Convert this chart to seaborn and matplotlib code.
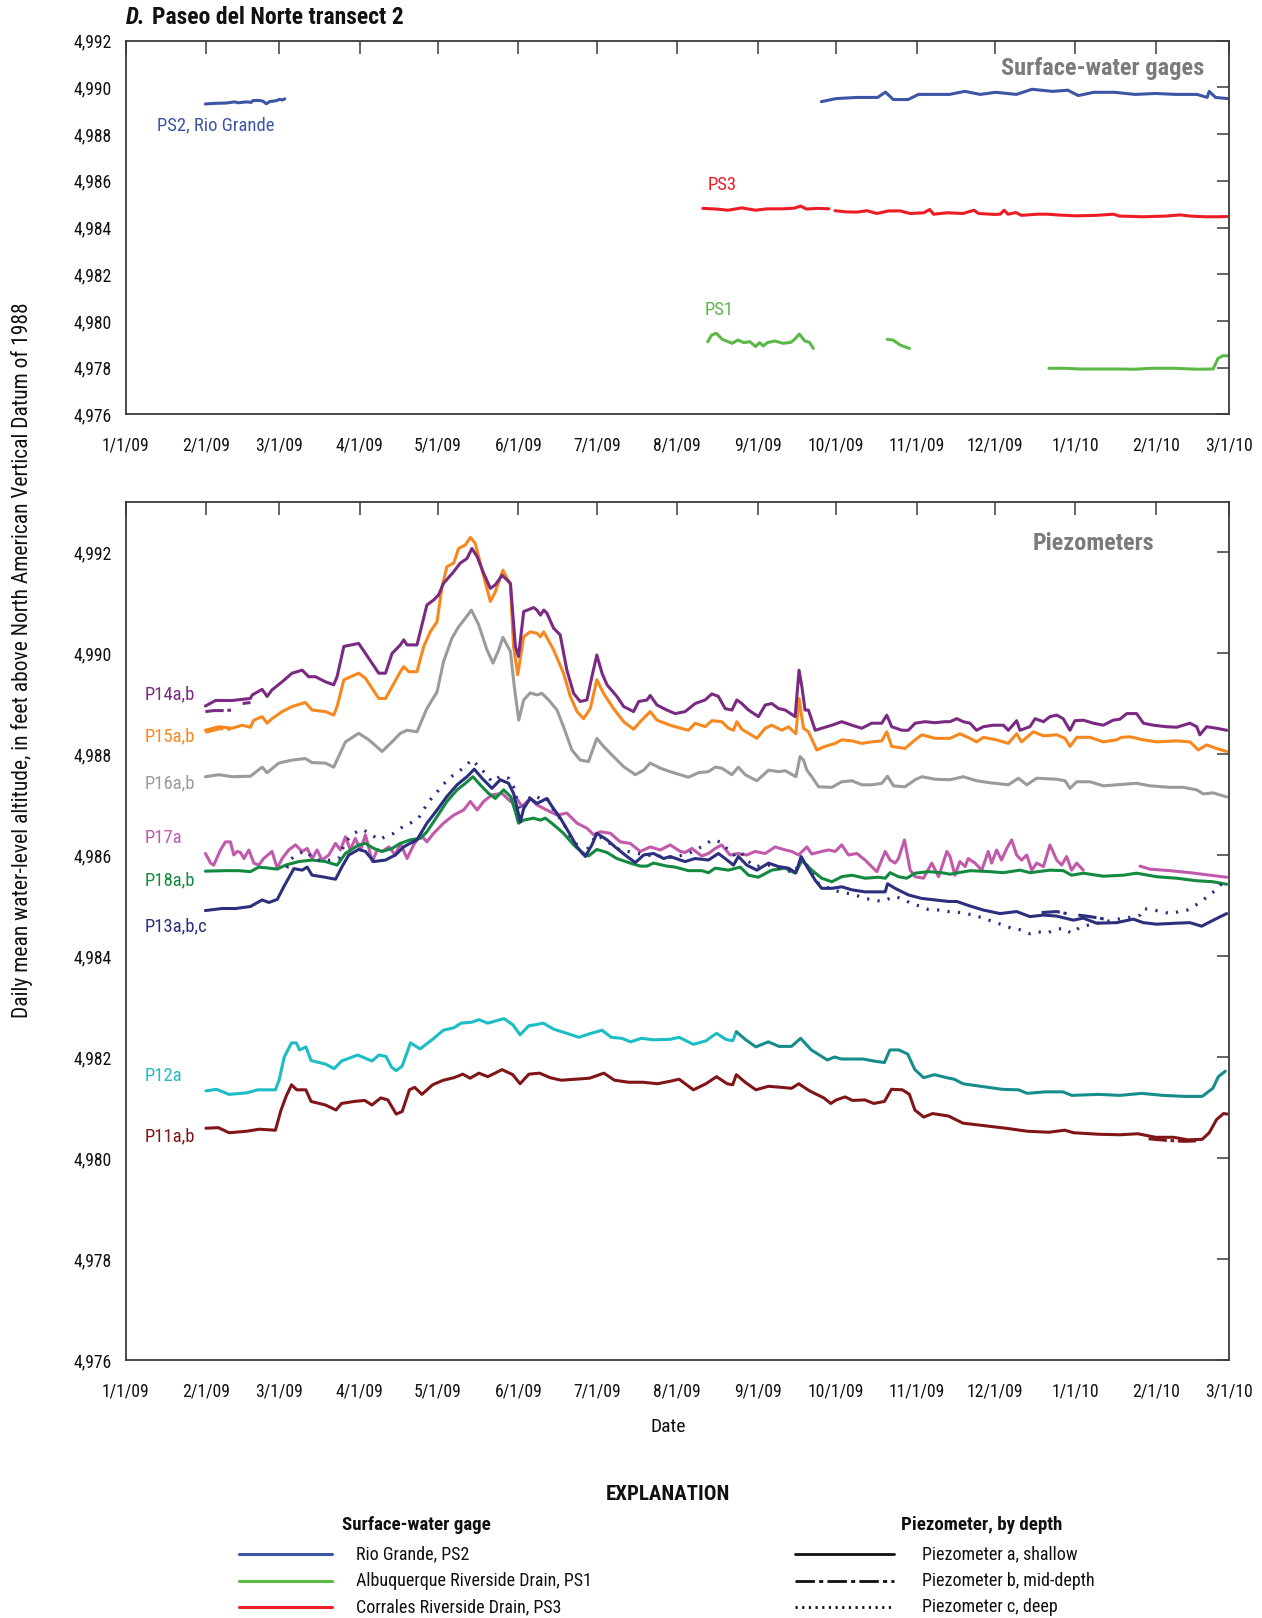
import numpy as np
import pandas as pd
import matplotlib
matplotlib.use("Agg")
import matplotlib.pyplot as plt
import matplotlib.dates as mdates
from matplotlib.ticker import FuncFormatter, FixedLocator
from matplotlib.lines import Line2D
from matplotlib import font_manager as fm
import seaborn as sns

# ---------------- DATA (days since 1/1/2009, water-level altitude in feet) -------------
START = "2009-01-01"

# Surface-water gages (top panel)
PS2_S1_DAYS = [30.7, 34.9, 38.7, 41.9, 43.2, 46.4, 48.3, 49.0, 51.5, 52.8, 54.1, 55.4, 57.9, 59.2, 60.3, 61.2]
PS2_S1_VALS = [4989.29, 4989.32, 4989.33, 4989.38, 4989.34, 4989.38, 4989.36, 4989.44, 4989.44, 4989.41,
               4989.30, 4989.39, 4989.43, 4989.49, 4989.46, 4989.51]
PS2_S2_DAYS = [267.4, 273, 281, 289, 292, 295, 300.7, 304.7, 316.6, 322.5, 328.4, 334.4, 342.3, 348.3, 356.2,
               362.1, 366.1, 372, 380, 387.9, 395.8, 403.7, 411.7, 415.6, 416.4, 418.8, 423.5]
PS2_S2_VALS = [4989.39, 4989.52, 4989.57, 4989.57, 4989.80, 4989.48, 4989.48, 4989.70, 4989.70, 4989.83,
               4989.70, 4989.79, 4989.70, 4989.92, 4989.83, 4989.88, 4989.65, 4989.79, 4989.79, 4989.70,
               4989.74, 4989.70, 4989.70, 4989.57, 4989.83, 4989.57, 4989.52]

PS3_S1_DAYS = [221.8, 227, 231.5, 236.8, 242.1, 246.6, 252.6, 257.1, 259.4, 261.6, 266.1, 270.3]
PS3_S1_VALS = [4984.82, 4984.79, 4984.74, 4984.84, 4984.74, 4984.80, 4984.80, 4984.83, 4984.92, 4984.79,
               4984.82, 4984.80]
PS3_S2_DAYS = [272.6, 276.7, 281.2, 284.9, 288.7, 293.2, 297.7, 301.5, 306.7, 309, 310.5, 315.8, 321.8, 326,
               327.8, 333.8, 336.1, 337.6, 339.1, 342.1, 344.3, 350.3, 354.1, 359.3, 365.3, 372.9, 379.6,
               381.9, 390.9, 399.9, 405.2, 408.9, 414.9, 419.5, 423.2]
PS3_S2_VALS = [4984.72, 4984.67, 4984.66, 4984.72, 4984.60, 4984.71, 4984.71, 4984.60, 4984.63, 4984.77,
               4984.57, 4984.63, 4984.60, 4984.74, 4984.60, 4984.56, 4984.57, 4984.74, 4984.57, 4984.64,
               4984.52, 4984.57, 4984.57, 4984.53, 4984.50, 4984.52, 4984.57, 4984.49, 4984.46, 4984.49,
               4984.54, 4984.49, 4984.46, 4984.46, 4984.47]

PS1_S1_DAYS = [223.7, 225.2, 227, 229.3, 233.1, 235.3, 237.6, 239.9, 242.1, 243.6, 245.1, 246.6, 249.6,
               252.6, 255.6, 257.1, 258.9, 260.9, 262.8, 264.3]
PS1_S1_VALS = [4979.11, 4979.39, 4979.47, 4979.21, 4979.04, 4979.18, 4979.07, 4979.11, 4978.90, 4979.07,
               4978.93, 4979.07, 4979.14, 4979.04, 4979.08, 4979.21, 4979.44, 4979.15, 4979.08, 4978.82]
PS1_S2_DAYS = [292.7, 294.9, 297.6, 301.2]
PS1_S2_VALS = [4979.21, 4979.18, 4978.97, 4978.82]
PS1_S3_DAYS = [354.8, 360.8, 366.9, 374.4, 381.9, 387.9, 393.9, 402.9, 411.9, 417.9, 419.8, 421.7, 423.6]
PS1_S3_VALS = [4977.97, 4977.97, 4977.94, 4977.94, 4977.94, 4977.93, 4977.97, 4977.97, 4977.93, 4977.94,
               4978.40, 4978.51, 4978.50]

# Piezometers (bottom panel)
P14A_DAYS = [30.7, 34.6, 41, 48, 48.7, 52.5, 54.4, 56.3, 60.2, 64, 67.9, 70.4, 73, 76.8, 80, 81.3, 83.9, 89.6,
             92.2, 97.3, 99.9, 102.4, 105.6, 106.9, 108.2, 112, 115.8, 118.4, 120.3, 122.2, 126.1, 128.6,
             131.2, 133.1, 135.1, 137.6, 140.2, 142.1, 144.7, 147.9, 149.8, 151, 153, 156.8, 158.1, 159.4,
             160.7, 161.9, 164.5, 167, 169.6, 172.2, 174.7, 177.3, 179.2, 181.1, 183.1, 185, 188.8, 191.4,
             195.2, 197.2, 200.4, 201.6, 204.2, 208, 211.2, 215, 218.9, 222.7, 225.3, 227.8, 230.4, 233,
             234.9, 236.8, 239.4, 243.2, 245.8, 248.3, 250.9, 253.5, 257.3, 258.8, 259.9, 261.1, 262.4, 265,
             267.5, 271.4, 275.2, 279.1, 282.9, 286.7, 290.6, 292.5, 294.4, 298.3, 300.8, 303.4, 307.2, 311.1,
             314.9, 316.8, 319.4, 321.9, 324.5, 327, 329.6, 333.4, 337.3, 339.2, 342.4, 343.7, 347.5, 349.5,
             352.7, 355.2, 357.8, 360.3, 362.9, 364.8, 368, 371.9, 375.7, 379.5, 382.1, 384.7, 388.5, 391.1,
             394.9, 400, 403.9, 409, 411.6, 412.8, 415.4, 419.2, 423.1]
P14A_VALS = [4988.95, 4989.06, 4989.06, 4989.10, 4989.17, 4989.28, 4989.14, 4989.27, 4989.43, 4989.60, 4989.66,
             4989.53, 4989.53, 4989.43, 4989.37, 4989.53, 4990.13, 4990.19, 4989.99, 4989.60, 4989.60,
             4989.99, 4990.16, 4990.26, 4990.16, 4990.16, 4990.95, 4991.05, 4991.15, 4991.38, 4991.61,
             4991.78, 4991.87, 4992.07, 4991.91, 4991.58, 4991.28, 4991.35, 4991.54, 4991.38, 4990.13,
             4989.93, 4990.82, 4990.90, 4990.85, 4990.75, 4990.85, 4990.79, 4990.49, 4990.36, 4989.66,
             4989.20, 4989.04, 4989.07, 4989.53, 4989.96, 4989.60, 4989.37, 4989.14, 4988.94, 4988.84,
             4989.04, 4989.07, 4989.16, 4988.97, 4988.87, 4988.80, 4988.84, 4989.00, 4989.07, 4989.19,
             4989.14, 4988.90, 4988.87, 4989.07, 4989.00, 4988.87, 4988.74, 4988.97, 4989.00, 4988.90,
             4988.87, 4988.74, 4989.66, 4989.33, 4988.87, 4988.87, 4988.47, 4988.51, 4988.57, 4988.64,
             4988.57, 4988.51, 4988.61, 4988.61, 4988.77, 4988.54, 4988.47, 4988.47, 4988.61, 4988.64,
             4988.62, 4988.64, 4988.64, 4988.70, 4988.64, 4988.61, 4988.47, 4988.54, 4988.57, 4988.57,
             4988.47, 4988.66, 4988.47, 4988.54, 4988.70, 4988.64, 4988.74, 4988.77, 4988.70, 4988.47,
             4988.66, 4988.67, 4988.61, 4988.57, 4988.67, 4988.69, 4988.80, 4988.80, 4988.61, 4988.57,
             4988.54, 4988.53, 4988.61, 4988.54, 4988.38, 4988.54, 4988.51, 4988.47]
P14B_S1_DAYS = [30.7, 34.0, 38.0, 41.0]
P14B_S1_VALS = [4988.84, 4988.86, 4988.86, 4988.87]
P14B_S2_DAYS = [45.0, 48.0]
P14B_S2_VALS = [4989.00, 4989.02]

P15A_DAYS = [30.7, 35.9, 41, 44.8, 48, 49.3, 52.5, 54.4, 56.3, 60.2, 64, 69.1, 71.7, 76.8, 80, 81.3, 83.9, 89.6,
             92.2, 97.3, 99.9, 102.4, 105.6, 106.9, 108.8, 112, 114.6, 117.1, 119.7, 121.6, 123.5, 126.1, 128,
             130.6, 132.5, 134.4, 137, 140.2, 142.1, 145, 147.9, 149.1, 150.7, 153, 155.5, 158.1, 159.4, 160.7,
             164.5, 168.3, 170.9, 173.5, 176, 178.6, 181.1, 183.7, 187.5, 191.4, 195.2, 197.8, 201.6, 204.2,
             209.3, 211.2, 216.3, 218.9, 222.7, 225.3, 229.1, 231.7, 233.6, 234.9, 236.8, 239.4, 242.6, 245.8,
             248.3, 252.2, 254.7, 257.6, 258.8, 260.5, 262.4, 265.6, 268.8, 272.7, 275.2, 279.1, 282.9, 286.7,
             290.6, 292.5, 294.4, 299.5, 303.4, 306, 311.1, 316.8, 320.6, 324.5, 327, 329.6, 334.7, 339.2,
             342.4, 344.3, 348.8, 352.7, 357.8, 361, 362.9, 365.5, 370.6, 375.7, 380.8, 382.7, 386, 391.1,
             396.2, 403.9, 409, 412.2, 415.4, 419.2, 423.1]
P15A_VALS = [4988.47, 4988.54, 4988.51, 4988.57, 4988.53, 4988.67, 4988.74, 4988.61, 4988.70, 4988.84,
             4988.94, 4989.02, 4988.87, 4988.84, 4988.77, 4988.94, 4989.47, 4989.60, 4989.50, 4989.10,
             4989.10, 4989.33, 4989.63, 4989.73, 4989.63, 4989.63, 4990.13, 4990.42, 4990.62, 4991.31,
             4991.71, 4991.78, 4992.07, 4992.14, 4992.29, 4992.17, 4991.64, 4991.02, 4991.21, 4991.64,
             4991.35, 4990.13, 4989.57, 4990.32, 4990.42, 4990.39, 4990.32, 4990.42, 4990.06, 4989.60,
             4989.14, 4988.84, 4988.70, 4988.90, 4989.47, 4989.20, 4988.90, 4988.64, 4988.49, 4988.64,
             4988.84, 4988.67, 4988.57, 4988.54, 4988.47, 4988.61, 4988.54, 4988.66, 4988.64, 4988.51,
             4988.47, 4988.64, 4988.49, 4988.41, 4988.31, 4988.51, 4988.57, 4988.47, 4988.54, 4988.40,
             4989.10, 4988.51, 4988.44, 4988.08, 4988.15, 4988.21, 4988.28, 4988.26, 4988.21, 4988.24,
             4988.26, 4988.44, 4988.15, 4988.11, 4988.28, 4988.38, 4988.31, 4988.31, 4988.40, 4988.31,
             4988.24, 4988.33, 4988.28, 4988.21, 4988.40, 4988.24, 4988.44, 4988.36, 4988.38, 4988.31,
             4988.15, 4988.33, 4988.33, 4988.24, 4988.28, 4988.33, 4988.34, 4988.28, 4988.24, 4988.26,
             4988.24, 4988.08, 4988.18, 4988.11, 4988.05]
P15B_DAYS = [30.7, 36.0, 41.0]
P15B_VALS = [4988.43, 4988.50, 4988.49]

P16A_DAYS = [30.7, 35.9, 41, 48, 52.5, 54.4, 58.9, 64, 69.1, 71.7, 76.8, 80, 81.9, 84.5, 89.6, 93.5, 98.6,
             102.4, 105.6, 108.2, 112, 115.8, 119.7, 122.2, 125.4, 128, 130.6, 132.9, 135.7, 138.9, 141.2,
             143.4, 145, 147.9, 149.4, 151.1, 153, 155.5, 158.1, 160, 162.6, 165.8, 168.3, 171.5, 174.7,
             177.9, 181.1, 183.7, 187.5, 191.4, 195.9, 199.1, 201.6, 205.5, 209.3, 211.2, 216.3, 220.2, 224,
             226.6, 229.1, 233, 235.5, 238.1, 242.6, 247.1, 250.9, 253.5, 257.6, 259.2, 260.5, 261.8, 263.7,
             266.3, 271.4, 275.2, 279.1, 282.9, 286.7, 290.6, 292.8, 295.1, 299.5, 303.4, 306, 311.1, 316.8,
             321.9, 327, 332.2, 339.2, 343.1, 346.3, 350.1, 357.8, 361, 362.9, 365.5, 370.6, 375.7, 380.8,
             388.5, 393.6, 401.3, 406.4, 411.6, 414.1, 417.9, 423.1]
P16A_VALS = [4987.55, 4987.59, 4987.55, 4987.56, 4987.74, 4987.63, 4987.82, 4987.88, 4987.91, 4987.83,
             4987.82, 4987.74, 4987.95, 4988.24, 4988.41, 4988.28, 4988.05, 4988.24, 4988.41, 4988.47,
             4988.44, 4988.90, 4989.23, 4989.83, 4990.29, 4990.52, 4990.69, 4990.85, 4990.56, 4990.06,
             4989.80, 4990.06, 4990.31, 4990.03, 4989.33, 4988.67, 4989.07, 4989.21, 4989.17, 4989.20,
             4989.07, 4988.87, 4988.54, 4988.08, 4987.88, 4987.85, 4988.31, 4988.15, 4987.95, 4987.75,
             4987.59, 4987.68, 4987.82, 4987.72, 4987.65, 4987.62, 4987.54, 4987.63, 4987.65, 4987.74,
             4987.72, 4987.59, 4987.74, 4987.59, 4987.47, 4987.68, 4987.65, 4987.67, 4987.55, 4987.95,
             4987.88, 4987.68, 4987.55, 4987.35, 4987.34, 4987.45, 4987.47, 4987.39, 4987.39, 4987.42,
             4987.56, 4987.37, 4987.35, 4987.49, 4987.55, 4987.50, 4987.49, 4987.55, 4987.47, 4987.43,
             4987.39, 4987.52, 4987.39, 4987.52, 4987.50, 4987.47, 4987.32, 4987.45, 4987.45, 4987.37,
             4987.39, 4987.42, 4987.37, 4987.34, 4987.34, 4987.29, 4987.21, 4987.23, 4987.15]

P17A_S1_DAYS = [30.7, 32.7, 33.9, 36.5, 38.4, 40.3, 41.6, 42.9, 44.2, 45.5, 47.4, 49.3, 51.2, 53.1, 56.3, 58.3,
                60.2, 62.7, 65.3, 67.9, 69.8, 71.7, 73.6, 75.5, 78.1, 80.7, 82.6, 84.5, 86.4, 88.3, 90.3, 92.2,
                94.8, 96.7, 98.6, 101.2, 103.7, 105.6, 108.2, 110.7, 113.3, 115.8, 118.4, 122.2, 126.1, 129.9,
                132.5, 135.1, 137.6, 140.8, 144.7, 147.9, 149.8, 152.3, 155.5, 158.1, 161.9, 165.8, 169.6,
                173.5, 177.3, 179.9, 182.4, 186.3, 190.1, 193.9, 197.8, 201.6, 205.5, 209.3, 213.2, 215, 217.6,
                221.4, 224, 226.6, 229.1, 232.3, 235.5, 238.7, 241.9, 245.8, 249.6, 253.5, 256, 258.6, 261.8,
                263.7, 267.5, 270.1, 272.7, 275.2, 277.8, 281, 284.2, 286.7, 288.7, 291.9, 293.8, 295.7, 297,
                299.3, 301.5, 303.4, 306.6, 309.8, 312.4, 315.6, 316.8, 318.7, 320.6, 322.6, 323.8, 326.4, 329,
                331.5, 332.8, 334.7, 336.6, 338.6, 340.5, 342.4, 344.3, 346.3, 348.2, 350.1, 352.7, 355.2,
                357.8, 359.7, 361.6, 363.5, 365.5, 368]
P17A_S1_VALS = [4986.03, 4985.84, 4985.80, 4986.10, 4986.26, 4986.26, 4986.00, 4986.07, 4986.05, 4985.93,
                4986.10, 4985.84, 4985.80, 4985.93, 4986.07, 4985.74, 4985.93, 4986.10, 4986.20, 4986.07,
                4986.13, 4985.93, 4986.10, 4985.90, 4986.00, 4986.23, 4986.10, 4986.36, 4986.10, 4986.33,
                4986.10, 4986.40, 4985.87, 4986.10, 4986.07, 4986.16, 4986.00, 4986.23, 4985.93, 4986.20,
                4986.40, 4986.26, 4986.43, 4986.63, 4986.79, 4986.89, 4987.06, 4986.89, 4987.06, 4987.19,
                4987.22, 4987.06, 4987.16, 4986.96, 4987.12, 4986.99, 4986.89, 4986.79, 4986.83, 4986.63,
                4986.53, 4986.40, 4986.46, 4986.43, 4986.26, 4986.23, 4986.07, 4986.16, 4986.10, 4986.20,
                4986.07, 4986.05, 4986.13, 4985.98, 4986.03, 4986.13, 4986.20, 4986.00, 4986.03, 4986.00,
                4986.07, 4986.03, 4986.16, 4986.10, 4986.07, 4986.00, 4986.16, 4986.02, 4986.07, 4986.10,
                4986.07, 4986.20, 4986.00, 4986.03, 4985.90, 4985.77, 4985.67, 4986.07, 4985.90, 4985.84,
                4985.93, 4986.30, 4985.70, 4985.57, 4985.54, 4985.84, 4985.57, 4986.07, 4985.97, 4985.60,
                4985.87, 4985.77, 4985.93, 4985.84, 4985.70, 4986.07, 4985.84, 4986.10, 4985.90, 4986.13,
                4986.30, 4986.00, 4985.90, 4986.00, 4985.70, 4985.84, 4985.77, 4986.20, 4985.90, 4985.80,
                4985.97, 4985.70, 4985.84, 4985.70]
P17A_S2_DAYS = [389.8, 393.6, 401.3, 409, 416.7, 423.1]
P17A_S2_VALS = [4985.78, 4985.72, 4985.69, 4985.65, 4985.60, 4985.56]

P18A_DAYS = [30.7, 38.4, 43.5, 48, 51.2, 55.1, 58.3, 61.5, 66.6, 71.7, 76.8, 81.3, 84.5, 89.6, 92.2, 95.4, 98.6,
             102.4, 105.6, 109.4, 113.3, 115.8, 119.7, 123.5, 127.4, 130.6, 133.5, 136.3, 139.5, 142.1, 145.3,
             147.9, 149.8, 151, 153, 156.8, 159.4, 161.3, 164.5, 168.3, 172.2, 175.4, 177.9, 181.1, 185,
             188.8, 193.9, 197.8, 200.4, 202.9, 208, 211.2, 216.3, 221.4, 224, 226.6, 231.7, 236.2, 239.4,
             243.2, 248.3, 253.5, 257.3, 259.9, 263.7, 267.5, 271.4, 275.2, 279.1, 284.2, 289.3, 291.9, 293.8,
             297, 300.2, 303.4, 308.5, 313.6, 316.8, 324.5, 332.2, 337.3, 343.7, 347.5, 355.2, 360.3, 363.5,
             368, 375.7, 383.4, 388.5, 396.2, 403.9, 411.6, 417.9, 423.1]
P18A_VALS = [4985.68, 4985.69, 4985.69, 4985.67, 4985.76, 4985.74, 4985.72, 4985.80, 4985.87, 4985.90,
             4985.87, 4985.80, 4986.03, 4986.20, 4986.23, 4986.13, 4986.07, 4986.13, 4986.23, 4986.30,
             4986.33, 4986.46, 4986.76, 4987.06, 4987.29, 4987.42, 4987.55, 4987.39, 4987.22, 4987.12,
             4987.29, 4987.16, 4986.86, 4986.63, 4986.69, 4986.73, 4986.69, 4986.73, 4986.60, 4986.43,
             4986.20, 4986.05, 4985.98, 4986.11, 4986.05, 4985.93, 4985.84, 4985.78, 4985.78, 4985.84,
             4985.78, 4985.76, 4985.69, 4985.69, 4985.65, 4985.74, 4985.70, 4985.76, 4985.60, 4985.56,
             4985.70, 4985.74, 4985.64, 4985.89, 4985.70, 4985.54, 4985.47, 4985.57, 4985.60, 4985.54,
             4985.56, 4985.54, 4985.65, 4985.57, 4985.54, 4985.64, 4985.67, 4985.65, 4985.62, 4985.69,
             4985.67, 4985.65, 4985.70, 4985.65, 4985.70, 4985.69, 4985.60, 4985.64, 4985.58, 4985.60,
             4985.64, 4985.57, 4985.54, 4985.49, 4985.47, 4985.42]

P13A_DAYS = [30.7, 37.1, 42.3, 48, 52.5, 55.1, 58.3, 60.8, 64.7, 67.9, 69.8, 71.7, 75.5, 80.7, 83.2, 85.8, 89.6,
             92.2, 95.4, 99.9, 103.7, 106.9, 108.2, 112, 115.8, 119.7, 123.5, 127.4, 131.2, 134, 137, 140.8,
             144, 147.2, 149.1, 151.7, 153, 155.5, 158.1, 161.9, 163.9, 167.1, 170.9, 173.5, 176.7, 179.2,
             181.1, 185, 188.8, 192.7, 195.9, 199.1, 202.9, 206.8, 209.3, 213.2, 215, 218.9, 224, 227.8, 230.4,
             233.6, 235.5, 238.7, 242.6, 247.1, 250.9, 254.7, 257.6, 259.6, 261.8, 265, 267.5, 271.4, 275.2,
             279.1, 284.2, 288, 291.9, 292.8, 295.7, 300.8, 305.9, 311.1, 316.2, 319.4, 324.5, 329.6, 336,
             342.4, 347.5, 352.7, 357.8, 364.2, 368, 373.1, 380.8, 387.2, 391.1, 396.2, 403.9, 409, 413.5,
             418, 423.1]
P13A_VALS = [4984.90, 4984.94, 4984.94, 4984.98, 4985.11, 4985.06, 4985.12, 4985.37, 4985.73, 4985.70,
             4985.76, 4985.60, 4985.57, 4985.52, 4985.77, 4986.00, 4986.11, 4986.07, 4985.87, 4985.90,
             4986.00, 4986.16, 4986.20, 4986.30, 4986.63, 4986.89, 4987.16, 4987.39, 4987.55, 4987.70,
             4987.52, 4987.32, 4987.49, 4987.42, 4987.22, 4986.66, 4986.92, 4987.12, 4987.02, 4987.12,
             4986.96, 4986.73, 4986.40, 4986.16, 4985.97, 4986.20, 4986.43, 4986.30, 4986.13, 4985.97,
             4985.85, 4986.00, 4986.03, 4985.93, 4985.97, 4985.90, 4985.87, 4985.93, 4985.90, 4986.03,
             4985.93, 4985.80, 4985.97, 4985.80, 4985.70, 4985.84, 4985.77, 4985.74, 4985.65, 4985.97,
             4985.77, 4985.50, 4985.34, 4985.34, 4985.37, 4985.31, 4985.27, 4985.27, 4985.27, 4985.43,
             4985.34, 4985.21, 4985.14, 4985.11, 4985.08, 4985.08, 4984.99, 4984.91, 4984.84, 4984.88,
             4984.78, 4984.81, 4984.79, 4984.71, 4984.75, 4984.65, 4984.66, 4984.73, 4984.66, 4984.63,
             4984.65, 4984.66, 4984.59, 4984.71, 4984.84]
P13B_S1_DAYS = [352.0, 357.8, 361.6]
P13B_S1_VALS = [4984.86, 4984.88, 4984.84]
P13B_S2_DAYS = [366.1, 370.6, 376.3]
P13B_S2_VALS = [4984.81, 4984.78, 4984.73]
P13C_DAYS = [62, 63.4, 66, 69.1, 72.3, 75.5, 78.7, 81.9, 84.5, 87.7, 90.9, 94.1, 97.3, 100.5, 103.1, 106.3,
             109.4, 112.6, 116.5, 119, 121.6, 124.8, 128, 131, 133.1, 135.7, 138.2, 140.8, 144, 147.2, 149.1,
             151.7, 153.6, 156.2, 159.4, 161.9, 164.5, 168.3, 170.9, 173.5, 176, 181, 190, 200, 210, 216,
             222.7, 225.3, 228.5, 233.6, 236.2, 238.7, 241.9, 247, 257, 260, 266, 272, 280.3, 284.2, 287.4,
             290.6, 295.7, 299.5, 302.1, 305.9, 308.5, 312.4, 316.2, 318.1, 321.9, 325.8, 329.6, 333.4, 337.3,
             340.5, 343.7, 347.5, 350.7, 353.9, 357.1, 360.3, 363.5, 366.7, 369.9, 376.5, 383.4, 386.6,
             389.8, 391.1, 394.9, 398.1, 401.3, 405.1, 408, 411.3, 414.1, 416.9, 419.2, 420.8, 422.4]
P13C_VALS = [4985.74, 4985.91, 4986.02, 4986.08, 4985.93, 4985.88, 4985.90, 4985.93, 4986.26, 4986.43,
             4986.51, 4986.42, 4986.30, 4986.38, 4986.43, 4986.55, 4986.63, 4986.73, 4987.06, 4987.20,
             4987.37, 4987.54, 4987.65, 4987.78, 4987.89, 4987.75, 4987.62, 4987.45, 4987.56, 4987.52,
             4987.35, 4986.86, 4987.02, 4987.19, 4987.12, 4987.12, 4986.89, 4986.63, 4986.36, 4986.20,
             4986.00, 4986.40, 4986.10, 4986.00, 4985.95, 4986.02, 4986.20, 4986.30, 4986.26, 4986.00,
             4986.07, 4985.90, 4985.77, 4985.80, 4985.65, 4985.95, 4985.45, 4985.30, 4985.21, 4985.14,
             4985.11, 4985.08, 4985.18, 4985.11, 4985.03, 4984.98, 4984.92, 4984.91, 4984.88, 4984.88,
             4984.85, 4984.81, 4984.75, 4984.68, 4984.61, 4984.55, 4984.52, 4984.44, 4984.48, 4984.45,
             4984.52, 4984.55, 4984.45, 4984.57, 4984.61, 4984.68, 4984.75, 4984.77, 4984.81, 4984.94,
             4984.91, 4984.88, 4984.84, 4984.88, 4984.91, 4985.01, 4985.11, 4985.23, 4985.31, 4985.41,
             4985.50]

P12A_S1_DAYS = [30.9, 35, 39.8, 46.6, 50.8, 57.6, 59, 61, 63.8, 65.6, 66.9, 69.3, 71.3, 76.8, 80.2, 83, 89.2,
                94.7, 97.4, 100.1, 102.2, 104, 106.3, 109.5, 113.2, 118, 122.1, 126.2, 128.9, 133.1, 135.8,
                139.2, 145.4, 148.8, 151.6, 155, 157.7, 160.5, 164.6, 170.1, 174.2, 178.3, 183.1, 186.6,
                190.7, 194.1, 198.2, 203, 209.3, 212.7, 218.2, 223, 227.1, 230.6, 233.3, 234.7]
P12A_S1_VALS = [4981.33, 4981.36, 4981.26, 4981.29, 4981.35, 4981.35, 4981.54, 4982.00, 4982.28, 4982.28,
                4982.14, 4982.20, 4981.93, 4981.86, 4981.77, 4981.92, 4982.04, 4981.92, 4982.04, 4982.01,
                4981.80, 4981.73, 4981.82, 4982.28, 4982.16, 4982.35, 4982.53, 4982.58, 4982.67, 4982.69,
                4982.74, 4982.67, 4982.76, 4982.64, 4982.44, 4982.62, 4982.64, 4982.67, 4982.55, 4982.46,
                4982.39, 4982.46, 4982.53, 4982.39, 4982.37, 4982.30, 4982.37, 4982.34, 4982.35, 4982.39,
                4982.25, 4982.32, 4982.47, 4982.35, 4982.32, 4982.50]
P12A_S2_DAYS = [234.7, 238.1, 242.2, 247, 251.1, 255.9, 259.4, 263.5, 269.7, 272.4, 275.1, 283.4, 287.5, 291.6,
                293.7, 297.1, 300.5, 303.3, 306.7, 310.8, 315.6, 318.4, 321.8, 328.6, 336.9, 343.1, 346.5,
                353.3, 360.2, 363.6, 373.9, 382.1, 390.4, 398.6, 406.8, 413.7, 417.8, 419.9, 422.6]
P12A_S2_VALS = [4982.50, 4982.35, 4982.20, 4982.30, 4982.21, 4982.21, 4982.37, 4982.14, 4981.94, 4982.00,
                4981.96, 4981.96, 4981.92, 4981.89, 4982.14, 4982.14, 4982.06, 4981.75, 4981.59, 4981.65,
                4981.59, 4981.56, 4981.47, 4981.42, 4981.36, 4981.35, 4981.28, 4981.31, 4981.31, 4981.24,
                4981.26, 4981.24, 4981.28, 4981.24, 4981.22, 4981.22, 4981.38, 4981.61, 4981.72]

P11A_DAYS = [30.9, 35.7, 39.8, 46.6, 51.4, 57.6, 59.7, 61.7, 63.8, 65.8, 69.3, 71.3, 76.8, 80.9, 83, 87.8, 91.9,
             94.7, 98.1, 100.8, 104, 106.3, 109.1, 111.1, 113.9, 118, 122.1, 126.2, 129.6, 132.4, 135.8, 139.2,
             144.7, 148.8, 151.6, 155, 159.1, 163.2, 167.4, 172.8, 178.3, 183.8, 187.9, 193.4, 198.9, 204.4,
             209.3, 212.7, 218.2, 223, 227.1, 231.2, 233.3, 234.7, 238.1, 242.2, 247, 251.8, 255.9, 258.7,
             262.8, 268.3, 271, 273.1, 276.5, 279.3, 284.1, 287.5, 291.6, 294.3, 298.5, 301.2, 303.3, 306.7,
             310.1, 316.3, 319, 321.8, 330, 338.2, 346.5, 354.7, 360.9, 364.3, 373.9, 382.1, 389, 395.8,
             402.7, 408.2, 413.7, 416.4, 419.2, 421.9, 423.3]
P11A_VALS = [4980.59, 4980.60, 4980.50, 4980.53, 4980.57, 4980.55, 4980.94, 4981.22, 4981.45, 4981.35,
             4981.35, 4981.12, 4981.05, 4980.95, 4981.08, 4981.12, 4981.14, 4981.05, 4981.19, 4981.15,
             4980.87, 4980.92, 4981.35, 4981.40, 4981.26, 4981.45, 4981.54, 4981.59, 4981.66, 4981.58,
             4981.68, 4981.61, 4981.75, 4981.65, 4981.47, 4981.66, 4981.68, 4981.59, 4981.54, 4981.56,
             4981.58, 4981.68, 4981.54, 4981.50, 4981.50, 4981.47, 4981.52, 4981.56, 4981.35, 4981.47,
             4981.61, 4981.47, 4981.45, 4981.65, 4981.50, 4981.35, 4981.42, 4981.40, 4981.38, 4981.47,
             4981.33, 4981.19, 4981.08, 4981.15, 4981.21, 4981.14, 4981.15, 4981.08, 4981.12, 4981.36,
             4981.35, 4981.26, 4980.95, 4980.81, 4980.88, 4980.83, 4980.76, 4980.69, 4980.64, 4980.59,
             4980.53, 4980.51, 4980.55, 4980.50, 4980.47, 4980.46, 4980.48, 4980.41, 4980.41, 4980.36,
             4980.37, 4980.50, 4980.76, 4980.88, 4980.87]
P11B_DAYS = [393.1, 400.0, 406.8, 412.0]
P11B_VALS = [4980.38, 4980.35, 4980.33, 4980.34]

TICK_MONTHS = ["2009-01-01", "2009-02-01", "2009-03-01", "2009-04-01", "2009-05-01", "2009-06-01",
               "2009-07-01", "2009-08-01", "2009-09-01", "2009-10-01", "2009-11-01", "2009-12-01",
               "2010-01-01", "2010-02-01", "2010-03-01"]
TICK_LABELS = ["1/1/09", "2/1/09", "3/1/09", "4/1/09", "5/1/09", "6/1/09", "7/1/09", "8/1/09", "9/1/09",
               "10/1/09", "11/1/09", "12/1/09", "1/1/10", "2/1/10", "3/1/10"]
Y_TICKS = [4976, 4978, 4980, 4982, 4984, 4986, 4988, 4990, 4992]

# ---------------- STYLE -------------
sns.set_theme(style="white")
names = {f.name for f in fm.fontManager.ttflist}
cond_dejavu = any(f.name == "DejaVu Sans" and "condensed" in str(f.stretch).lower() for f in fm.fontManager.ttflist)
if "Liberation Sans Narrow" in names:
    FAM, STRETCH = "Liberation Sans Narrow", "normal"
elif "Roboto Condensed" in names:
    FAM, STRETCH = "Roboto Condensed", "normal"
elif cond_dejavu:
    FAM, STRETCH = "DejaVu Sans", "condensed"
else:
    FAM, STRETCH = "Liberation Sans", "normal"
plt.rcParams["font.family"] = [FAM, "DejaVu Sans"]
plt.rcParams["font.stretch"] = STRETCH

C_PS2 = "#3c55a5"; C_PS1 = "#5cb947"; C_PS3 = "#ed1c24"
C_P14 = "#7a2a82"; C_P15 = "#f7881f"; C_P16 = "#9b9b9b"; C_P17 = "#c25aab"
C_P18 = "#148a40"; C_P13 = "#2b2f7e"; C_P12 = "#1cbdc4"; C_P12T = "#178c8d"; C_P11 = "#801518"
SPINE = "#3a3a3a"
TXT = "#111111"
LW = 2.2
DASHDOT = (0, (6, 1.2, 1.2, 1.2))
DOTTED = (0, (0.7, 2.6))

W, H = 1262, 1618
fig = plt.figure(figsize=(W / 100, H / 100), dpi=100)
fig.patch.set_facecolor("white")

def fx(px):
    return px / W

def fy(py):
    return 1 - py / H

ax_top = fig.add_axes([fx(125.5), fy(414.3), fx(1229) - fx(125.5), (414.3 - 40.7) / H])
ax_bot = fig.add_axes([fx(125.5), fy(1360), fx(1229) - fx(125.5), (1360 - 501.5) / H])

base = pd.Timestamp(START)

def to_dates(days):
    return base + pd.to_timedelta(np.asarray(days, dtype=float), unit="D")

def draw(ax, days, vals, color, ls="-", lw=LW, z=2):
    df = pd.DataFrame({"date": to_dates(days), "val": vals})
    sns.lineplot(data=df, x="date", y="val", ax=ax, color=color, lw=lw, linestyle=ls,
                 estimator=None, sort=False, legend=False, zorder=z)

# top panel
draw(ax_top, PS2_S1_DAYS, PS2_S1_VALS, C_PS2)
draw(ax_top, PS2_S2_DAYS, PS2_S2_VALS, C_PS2)
draw(ax_top, PS3_S1_DAYS, PS3_S1_VALS, C_PS3)
draw(ax_top, PS3_S2_DAYS, PS3_S2_VALS, C_PS3)
draw(ax_top, PS1_S1_DAYS, PS1_S1_VALS, C_PS1)
draw(ax_top, PS1_S2_DAYS, PS1_S2_VALS, C_PS1)
draw(ax_top, PS1_S3_DAYS, PS1_S3_VALS, C_PS1)

# bottom panel
draw(ax_bot, P16A_DAYS, P16A_VALS, C_P16)
draw(ax_bot, P15A_DAYS, P15A_VALS, C_P15)
draw(ax_bot, P15B_DAYS, P15B_VALS, C_P15, DASHDOT)
draw(ax_bot, P14A_DAYS, P14A_VALS, C_P14)
draw(ax_bot, P14B_S1_DAYS, P14B_S1_VALS, C_P14, DASHDOT)
draw(ax_bot, P14B_S2_DAYS, P14B_S2_VALS, C_P14, DASHDOT)
draw(ax_bot, P17A_S1_DAYS, P17A_S1_VALS, C_P17)
draw(ax_bot, P17A_S2_DAYS, P17A_S2_VALS, C_P17)
draw(ax_bot, P18A_DAYS, P18A_VALS, C_P18)
draw(ax_bot, P13C_DAYS, P13C_VALS, C_P13, DOTTED, lw=2.3)
draw(ax_bot, P13A_DAYS, P13A_VALS, C_P13)
draw(ax_bot, P13B_S1_DAYS, P13B_S1_VALS, C_P13, DASHDOT)
draw(ax_bot, P13B_S2_DAYS, P13B_S2_VALS, C_P13, DASHDOT)
draw(ax_bot, P12A_S1_DAYS, P12A_S1_VALS, C_P12)
draw(ax_bot, P12A_S2_DAYS, P12A_S2_VALS, C_P12T)
draw(ax_bot, P11A_DAYS, P11A_VALS, C_P11)
draw(ax_bot, P11B_DAYS, P11B_VALS, C_P11, DASHDOT)

tick_pos = [mdates.date2num(pd.Timestamp(t)) for t in TICK_MONTHS]
for ax, ylim in ((ax_top, (4976, 4992)), (ax_bot, (4976, 4993))):
    ax.set_xlim(tick_pos[0], tick_pos[-1])
    ax.set_ylim(*ylim)
    ax.xaxis.set_major_locator(FixedLocator(tick_pos))
    ax.set_xticklabels(TICK_LABELS)
    ax.set_yticks(Y_TICKS)
    ax.yaxis.set_major_formatter(FuncFormatter(lambda v, p: f"{v:,.0f}"))
    ax.tick_params(axis="both", direction="in", length=9, width=1.1, color=SPINE,
                   top=True, right=True, labelsize=12.7, labelcolor=TXT)
    ax.tick_params(axis="x", pad=16)
    ax.tick_params(axis="y", pad=10)
    ax.set_xlabel("")
    ax.set_ylabel("")
    ax.grid(False)
    ax.set_facecolor("white")
    for s in ax.spines.values():
        s.set_color(SPINE)
        s.set_linewidth(1.3)
        s.set_visible(True)

# in-panel labels
def t_fig(xpx, ypx, s, color, size=13.4, weight="normal", ha="left", style="normal"):
    return fig.text(fx(xpx), fy(ypx), s, color=color, fontsize=size, fontweight=weight, ha=ha,
                    va="center", fontstyle=style)

t_fig(157, 125, "PS2, Rio Grande", C_PS2)
t_fig(708, 185, "PS3", C_PS3)
t_fig(705, 310, "PS1", C_PS1)
t_fig(1204, 69, "Surface-water gages", "#7b7b7b", size=17.6, weight="bold", ha="right")

t_fig(1154, 544, "Piezometers", "#7b7b7b", size=17.4, weight="bold", ha="right")
t_fig(144.5, 694, "P14a,b", C_P14)
t_fig(144.5, 736, "P15a,b", C_P15)
t_fig(144.5, 783, "P16a,b", C_P16)
t_fig(144.5, 838, "P17a", C_P17)
t_fig(144.5, 880, "P18a,b", C_P18)
t_fig(144.5, 926, "P13a,b,c", C_P13)
t_fig(144.5, 1076, "P12a", C_P12)
t_fig(144.5, 1136, "P11a,b", C_P11)

# title: bold italic "D." followed by bold text
renderer = fig.canvas.get_renderer()
t1 = t_fig(126, 18, "D.", TXT, size=17, weight="bold", style="italic")
bb = t1.get_window_extent(renderer=renderer)
x_after = bb.x1 + 6
fig.text(x_after / W, fy(18), "Paseo del Norte transect 2", fontsize=17, fontweight="bold",
         ha="left", va="center", color=TXT)

# axis labels
fig.text(fx(22), fy(660), "Daily mean water-level altitude, in feet above North American Vertical Datum of 1988",
         rotation=90, ha="center", va="center", fontsize=15.5, color=TXT)
fig.text(fx(668), fy(1427), "Date", ha="center", va="center", fontsize=14, color=TXT)

# explanation
fig.text(fx(668), fy(1494), "EXPLANATION", ha="center", va="center", fontsize=15, fontweight="bold", color=TXT)
fig.text(fx(416), fy(1525), "Surface-water gage", ha="center", va="center", fontsize=13.6, fontweight="bold", color=TXT)
fig.text(fx(982), fy(1525), "Piezometer, by depth", ha="center", va="center", fontsize=13.6, fontweight="bold", color=TXT)

LEG_SW = [("Rio Grande, PS2", C_PS2), ("Albuquerque Riverside Drain, PS1", C_PS1), ("Corrales Riverside Drain, PS3", C_PS3)]
LEG_PZ = [("Piezometer a, shallow", "-"), ("Piezometer b, mid-depth", (0, (7, 1.5, 1.5, 1.5))), ("Piezometer c, deep", (0, (0.8, 1.6)))]
LEG_Y = [1554, 1581, 1607]
for (lab, col), yy in zip(LEG_SW, LEG_Y):
    fig.add_artist(Line2D([fx(239), fx(332)], [fy(yy), fy(yy)], transform=fig.transFigure, color=col, lw=2.2))
    fig.text(fx(356), fy(yy), lab, ha="left", va="center", fontsize=13, color=TXT)
for (lab, ls), yy in zip(LEG_PZ, LEG_Y):
    fig.add_artist(Line2D([fx(795), fx(894)], [fy(yy), fy(yy)], transform=fig.transFigure, color=TXT,
                          lw=2.0, linestyle=ls))
    fig.text(fx(922), fy(yy), lab, ha="left", va="center", fontsize=13, color=TXT)

fig.savefig("out.png", dpi=100, facecolor="white")
